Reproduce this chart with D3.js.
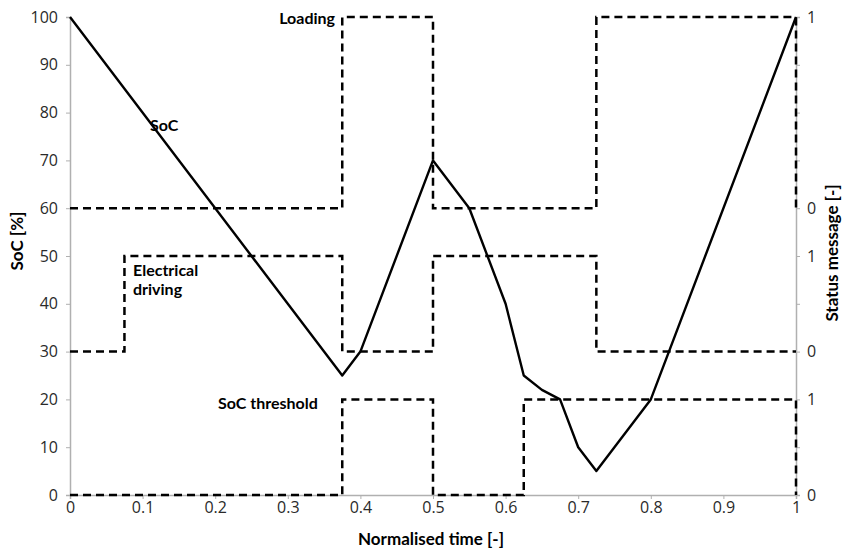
<!DOCTYPE html>
<html>
<head>
<meta charset="utf-8">
<script src="https://cdn.jsdelivr.net/npm/d3@7"></script>
<style>
  body { margin: 0; background: #fff; }
  .tick text { font-family: "Open Sans", "DejaVu Sans", sans-serif; font-size: 16px; fill: #2a2a2a; }
  .lbl { font-family: Lato, "Open Sans", sans-serif; font-weight: bold; font-size: 16px; fill: #000; }
  .title { font-family: Lato, "Open Sans", sans-serif; font-weight: bold; font-size: 17px; fill: #000; }
</style>
</head>
<body>
<svg id="chart" width="844" height="556"></svg>
<script>
// SoC curve
const socTime = [0, 0.375, 0.4, 0.5, 0.55, 0.6, 0.625, 0.65, 0.675, 0.7, 0.725, 0.8, 1];
const socValue = [100, 25, 30, 70, 60, 40, 25, 22, 20, 10, 5, 20, 100];

// status messages (0/1), step changes at these times
const loadingTime = [0, 0.375, 0.5, 0.725, 1, 1];
const loadingState = [0, 1, 0, 1, 1, 0];
const drivingTime = [0, 0.075, 0.375, 0.5, 0.725, 1];
const drivingState = [0, 1, 0, 1, 0, 0];
const thresholdTime = [0, 0.375, 0.5, 0.625, 1, 1];
const thresholdState = [0, 1, 0, 1, 1, 0];

// band on the SoC axis that each status signal occupies: [value for 0, value for 1]
const loadingBand = [60, 100];
const drivingBand = [30, 50];
const thresholdBand = [0, 20];

const xTicks = [0, 0.1, 0.2, 0.3, 0.4, 0.5, 0.6, 0.7, 0.8, 0.9, 1];
const yTicks = [0, 10, 20, 30, 40, 50, 60, 70, 80, 90, 100];
const rightTicks = [[0, '0'], [20, '1'], [30, '0'], [50, '1'], [60, '0'], [100, '1']];

const svg = d3.select('#chart');
const m = { left: 70, right: 48, top: 17, bottom: 61 };
const W = 844, H = 556;

const x = d3.scaleLinear().domain([0, 1]).range([m.left, W - m.right]);
const y = d3.scaleLinear().domain([0, 100]).range([H - m.bottom, m.top]);

const axisColor = '#b0b0b0';

const xAxis = svg.append('g')
  .attr('transform', `translate(0,${y(0)})`)
  .call(d3.axisBottom(x).tickValues(xTicks).tickSize(4).tickPadding(3).tickFormat(d3.format('~g')));
const yAxis = svg.append('g')
  .attr('transform', `translate(${x(0)},0)`)
  .call(d3.axisLeft(y).tickValues(yTicks).tickSize(4).tickPadding(8));
const rAxis = svg.append('g')
  .attr('transform', `translate(${x(1)},0)`)
  .call(d3.axisRight(y).tickValues(yTicks).tickSize(4).tickPadding(7)
    .tickFormat(d => { const r = rightTicks.find(t => t[0] === d); return r ? r[1] : ''; }));

[xAxis, yAxis, rAxis].forEach(a => {
  a.select('.domain').attr('stroke', axisColor).attr('stroke-width', 1.5);
  a.selectAll('.tick line').attr('stroke', axisColor);
});

function stepLine(times, states, band) {
  const pts = [];
  for (let i = 0; i < times.length; i++) {
    const v = band[0] + states[i] * (band[1] - band[0]);
    if (i > 0) pts.push([times[i], band[0] + states[i - 1] * (band[1] - band[0])]);
    pts.push([times[i], v]);
  }
  return d3.line().x(d => x(d[0])).y(d => y(d[1]))(pts);
}

const dashed = [
  [loadingTime, loadingState, loadingBand],
  [drivingTime, drivingState, drivingBand],
  [thresholdTime, thresholdState, thresholdBand]
];
svg.append('g').selectAll('path')
  .data(dashed)
  .join('path')
  .attr('d', d => stepLine(d[0], d[1], d[2]))
  .attr('fill', 'none')
  .attr('stroke', '#000')
  .attr('stroke-width', 2.5)
  .attr('stroke-dasharray', '8,5');

svg.append('path')
  .attr('d', d3.line().x((d, i) => x(socTime[i])).y(d => y(d))(socValue))
  .attr('fill', 'none')
  .attr('stroke', '#000')
  .attr('stroke-width', 2.4)
  .attr('stroke-linejoin', 'round');

// series labels
svg.append('text').attr('class', 'lbl').attr('x', 150).attr('y', 131).text('SoC');
svg.append('text').attr('class', 'lbl').attr('x', 335).attr('y', 24).attr('text-anchor', 'end').text('Loading');
svg.append('text').attr('class', 'lbl').attr('x', 133).attr('y', 276).text('Electrical');
svg.append('text').attr('class', 'lbl').attr('x', 133).attr('y', 295).text('driving');
svg.append('text').attr('class', 'lbl').attr('x', 218).attr('y', 409).text('SoC threshold');

// axis titles
svg.append('text').attr('class', 'title')
  .attr('transform', 'translate(23,241) rotate(-90)')
  .attr('text-anchor', 'middle').text('SoC [%]');
svg.append('text').attr('class', 'title')
  .attr('transform', 'translate(838,253) rotate(-90)')
  .attr('text-anchor', 'middle').text('Status message [-]');
svg.append('text').attr('class', 'title')
  .attr('x', 431).attr('y', 545)
  .attr('text-anchor', 'middle').text('Normalised time [-]');
</script>
</body>
</html>
